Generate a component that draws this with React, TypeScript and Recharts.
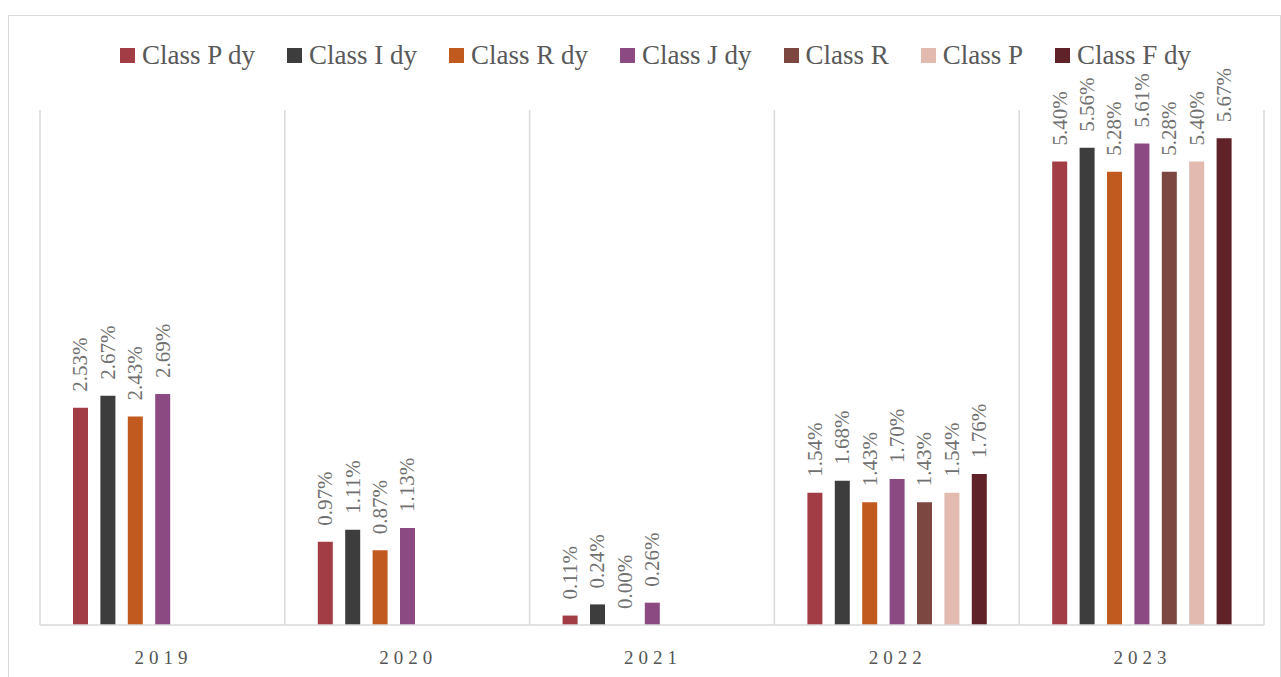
import { BarChart, Bar, XAxis, YAxis, CartesianGrid, LabelList } from 'recharts'

const years = ['2019', '2020', '2021', '2022', '2023']
const seriesNames = ['Class P dy', 'Class I dy', 'Class R dy', 'Class J dy', 'Class R', 'Class P', 'Class F dy']
const seriesColors = ['#A23D46', '#3D3D3D', '#C05A1E', '#8B4A82', '#7C4740', '#E2BAB0', '#5F2229']

const classPdy = [2.53, 0.97, 0.11, 1.54, 5.40]
const classIdy = [2.67, 1.11, 0.24, 1.68, 5.56]
const classRdy = [2.43, 0.87, 0.00, 1.43, 5.28]
const classJdy = [2.69, 1.13, 0.26, 1.70, 5.61]
const classR = [null, null, null, 1.43, 5.28]
const classP = [null, null, null, 1.54, 5.40]
const classFdy = [null, null, null, 1.76, 5.67]

const seriesValues = [classPdy, classIdy, classRdy, classJdy, classR, classP, classFdy]

const data = years.map((year, i) => {
    const row: Record<string, string | number | null> = { year }
    seriesNames.forEach((name, s) => {
        row[name] = seriesValues[s][i]
    })
    return row
})

const font = '"Liberation Serif", "DejaVu Serif", serif'

const ValueLabel = (props: any) => {
    const { x, y, width, value } = props
    if (value === null || value === undefined) return null
    const cx = Number(x) + Number(width) / 2
    const cy = Number(y) - 16
    return (
        <text
            x={cx}
            y={cy}
            transform={`rotate(-90, ${cx}, ${cy})`}
            textAnchor="start"
            dominantBaseline="central"
            fill="#707070"
            fontSize={21}
            fontFamily={font}
        >
            {`${Number(value).toFixed(2)}%`}
        </text>
    )
}

const YearTick = (props: any) => {
    const { x, y, payload } = props
    return (
        <text
            x={x + 1}
            y={y + 39}
            textAnchor="middle"
            fill="#555555"
            fontSize={19}
            fontFamily={font}
            letterSpacing={5}
        >
            {payload.value}
        </text>
    )
}

export default function App() {
    return (
        <div style={{ position: 'relative', width: 1281, height: 677, overflow: 'hidden', background: '#fff' }}>
            <style>{`body{margin:0;overflow:hidden}`}</style>
            <div
                style={{
                    position: 'absolute',
                    left: 8,
                    top: 15,
                    width: 1271,
                    height: 700,
                    border: '1px solid #d9d9d9',
                }}
            />
            <div
                style={{
                    position: 'absolute',
                    left: 9,
                    top: 39,
                    width: 1271,
                    display: 'flex',
                    justifyContent: 'center',
                    paddingLeft: 22,
                    boxSizing: 'border-box',
                    fontFamily: font,
                    fontSize: 27,
                    lineHeight: '32px',
                    color: '#595959',
                }}
            >
                {seriesNames.map((name, i) => (
                    <div key={name} style={{ display: 'flex', alignItems: 'center', marginRight: i < seriesNames.length - 1 ? 32 : 0 }}>
                        <span style={{ display: 'inline-block', width: 15, height: 15, background: seriesColors[i], marginRight: 7 }} />
                        <span>{name}</span>
                    </div>
                ))}
            </div>
            <div style={{ position: 'absolute', left: 9, top: 16 }}>
                <BarChart
                    width={1271}
                    height={661}
                    data={data}
                    margin={{ top: 94, right: 16, left: 31, bottom: 16 }}
                    barSize={15}
                    barGap={12.4}
                >
                    <CartesianGrid
                        horizontal={false}
                        stroke="#d9d9d9"
                        strokeWidth={1.5}
                        verticalCoordinatesGenerator={({ offset }: any) =>
                            Array.from({ length: years.length + 1 }, (_, i) => offset.left + (i * offset.width) / years.length)
                        }
                    />
                    <XAxis
                        dataKey="year"
                        height={36}
                        axisLine={{ stroke: '#d9d9d9', strokeWidth: 1.5 }}
                        tickLine={false}
                        tickSize={0}
                        tickMargin={0}
                        tick={<YearTick />}
                        interval={0}
                    />
                    <YAxis hide domain={[0, 6]} />
                    {seriesNames.map((name, i) => (
                        <Bar key={name} dataKey={name} fill={seriesColors[i]} minPointSize={0.01} isAnimationActive={false}>
                            <LabelList dataKey={name} content={<ValueLabel />} />
                        </Bar>
                    ))}
                </BarChart>
            </div>
        </div>
    )
}
